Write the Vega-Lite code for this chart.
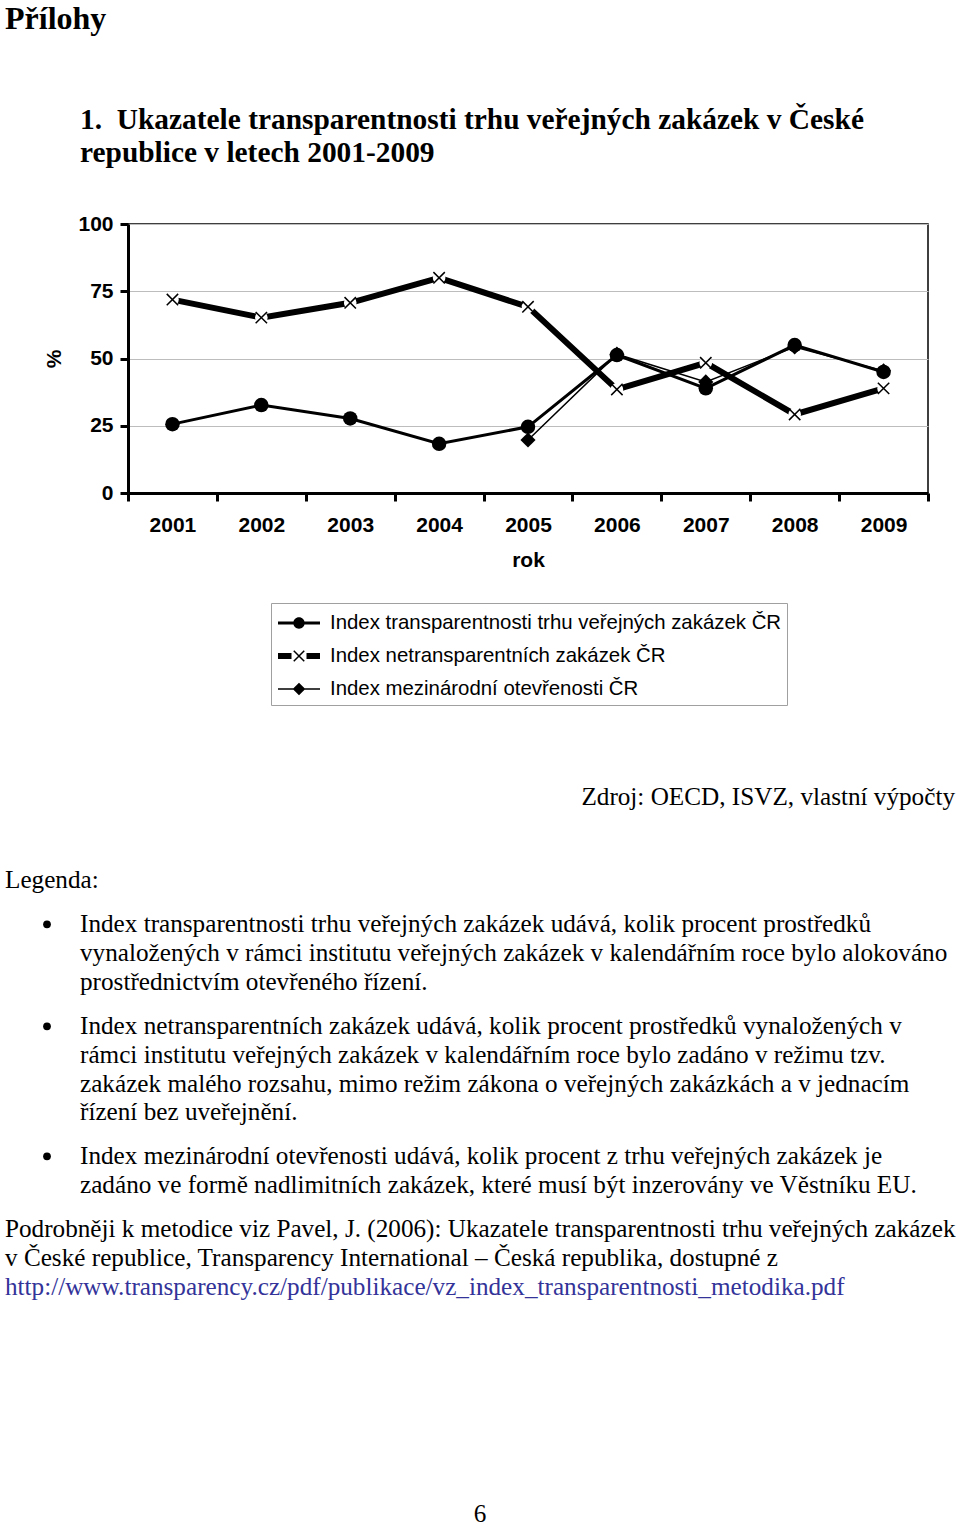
{
  "$schema": "https://vega.github.io/schema/vega-lite/v6.json",
  "background": "white",
  "padding": {"left": 5, "top": 2, "right": 0, "bottom": 0},
  "config": {
    "font": "Liberation Sans",
    "view": {"stroke": null},
    "text": {"color": "black"}
  },
  "title": {
    "text": "Přílohy",
    "anchor": "start",
    "frame": "bounds",
    "font": "Liberation Serif",
    "fontSize": 32,
    "fontWeight": "bold",
    "color": "black",
    "offset": 68
  },
  "datasets": {
    "idx": [
      {"rok": "2001", "name": "Index transparentnosti trhu veřejných zakázek ČR", "value": 25.6},
      {"rok": "2002", "name": "Index transparentnosti trhu veřejných zakázek ČR", "value": 32.7},
      {"rok": "2003", "name": "Index transparentnosti trhu veřejných zakázek ČR", "value": 27.7},
      {"rok": "2004", "name": "Index transparentnosti trhu veřejných zakázek ČR", "value": 18.3},
      {"rok": "2005", "name": "Index transparentnosti trhu veřejných zakázek ČR", "value": 24.6},
      {"rok": "2006", "name": "Index transparentnosti trhu veřejných zakázek ČR", "value": 51.3},
      {"rok": "2007", "name": "Index transparentnosti trhu veřejných zakázek ČR", "value": 38.9},
      {"rok": "2008", "name": "Index transparentnosti trhu veřejných zakázek ČR", "value": 55.0},
      {"rok": "2009", "name": "Index transparentnosti trhu veřejných zakázek ČR", "value": 45.0},
      {"rok": "2001", "name": "Index netransparentních zakázek ČR", "value": 71.9},
      {"rok": "2002", "name": "Index netransparentních zakázek ČR", "value": 65.2},
      {"rok": "2003", "name": "Index netransparentních zakázek ČR", "value": 70.7},
      {"rok": "2004", "name": "Index netransparentních zakázek ČR", "value": 80.0},
      {"rok": "2005", "name": "Index netransparentních zakázek ČR", "value": 69.2},
      {"rok": "2006", "name": "Index netransparentních zakázek ČR", "value": 38.5},
      {"rok": "2007", "name": "Index netransparentních zakázek ČR", "value": 48.4},
      {"rok": "2008", "name": "Index netransparentních zakázek ČR", "value": 29.2},
      {"rok": "2009", "name": "Index netransparentních zakázek ČR", "value": 38.9},
      {"rok": "2005", "name": "Index mezinárodní otevřenosti ČR", "value": 19.7},
      {"rok": "2006", "name": "Index mezinárodní otevřenosti ČR", "value": 51.6},
      {"rok": "2007", "name": "Index mezinárodní otevřenosti ČR", "value": 41.3},
      {"rok": "2008", "name": "Index mezinárodní otevřenosti ČR", "value": 54.3},
      {"rok": "2009", "name": "Index mezinárodní otevřenosti ČR", "value": 45.4}
    ],
    "text": [
      {"block": "zdroj", "line": 1, "col": "right", "kind": "text", "text": "Zdroj: OECD, ISVZ, vlastní výpočty"},
      {"block": "legenda", "line": 1, "col": "left", "kind": "text", "text": "Legenda:"},
      {"block": "p1", "line": 1, "col": "bullet", "kind": "text", "text": "•"},
      {"block": "p1", "line": 1, "col": "body", "kind": "text", "text": "Index transparentnosti trhu veřejných zakázek udává, kolik procent prostředků"},
      {"block": "p1", "line": 2, "col": "body", "kind": "text", "text": "vynaložených v rámci institutu veřejných zakázek v kalendářním roce bylo alokováno"},
      {"block": "p1", "line": 3, "col": "body", "kind": "text", "text": "prostřednictvím otevřeného řízení."},
      {"block": "p2", "line": 1, "col": "bullet", "kind": "text", "text": "•"},
      {"block": "p2", "line": 1, "col": "body", "kind": "text", "text": "Index netransparentních zakázek udává, kolik procent prostředků vynaložených v"},
      {"block": "p2", "line": 2, "col": "body", "kind": "text", "text": "rámci institutu veřejných zakázek v kalendářním roce bylo zadáno v režimu tzv."},
      {"block": "p2", "line": 3, "col": "body", "kind": "text", "text": "zakázek malého rozsahu, mimo režim zákona o veřejných zakázkách a v jednacím"},
      {"block": "p2", "line": 4, "col": "body", "kind": "text", "text": "řízení bez uveřejnění."},
      {"block": "p3", "line": 1, "col": "bullet", "kind": "text", "text": "•"},
      {"block": "p3", "line": 1, "col": "body", "kind": "text", "text": "Index mezinárodní otevřenosti udává, kolik procent z trhu veřejných zakázek je"},
      {"block": "p3", "line": 2, "col": "body", "kind": "text", "text": "zadáno ve formě nadlimitních zakázek, které musí být inzerovány ve Věstníku EU."},
      {"block": "tail", "line": 1, "col": "left", "kind": "text", "text": "Podrobněji k metodice viz Pavel, J. (2006): Ukazatele transparentnosti trhu veřejných zakázek"},
      {"block": "tail", "line": 2, "col": "left", "kind": "text", "text": "v České republice, Transparency International – Česká republika, dostupné z"},
      {"block": "tail", "line": 3, "col": "left", "kind": "link", "text": "http://www.transparency.cz/pdf/publikace/vz_index_transparentnosti_metodika.pdf"},
      {"block": "page", "line": 1, "col": "center", "kind": "text", "text": "6"}
    ]
  },
  "spacing": 15,
  "vconcat": [
    {
      "width": 800,
      "height": 269,
      "view": {"stroke": "black", "strokeWidth": 1.5},
      "title": {
        "text": ["1.\u00a0\u00a0Ukazatele transparentnosti trhu veřejných zakázek v České", "\u00a0\u00a0\u00a0\u00a0\u00a0republice v letech 2001-2009"],
        "anchor": "start",
        "frame": "group",
        "dx": -48,
        "font": "Liberation Serif",
        "fontSize": 29.4,
        "fontWeight": "bold",
        "lineHeight": 33,
        "color": "black",
        "offset": 45
      },
      "data": {"name": "idx"},
      "encoding": {
        "x": {
          "field": "rok",
          "type": "ordinal",
          "bandPosition": 0.5,
          "scale": {"type": "band", "paddingInner": 0, "paddingOuter": 0},
          "axis": {
            "title": "rok",
            "titleFontSize": 21,
            "titleFontWeight": "bold",
            "titleColor": "black",
            "titlePadding": 14,
            "labelFontSize": 21,
            "labelFontWeight": "bold",
            "labelColor": "black",
            "labelAngle": 0,
            "labelPadding": 13,
            "tickBand": "extent",
            "tickSize": 8,
            "tickWidth": 3,
            "tickColor": "black",
            "domainColor": "black",
            "domainWidth": 3,
            "grid": false
          }
        },
        "y": {
          "field": "value",
          "type": "quantitative",
          "scale": {"domain": [0, 100]},
          "axis": {
            "title": "%",
            "titleFontSize": 21,
            "titleFontWeight": "bold",
            "titleColor": "black",
            "titlePadding": 13,
            "values": [0, 25, 50, 75, 100],
            "labelFontSize": 21,
            "labelFontWeight": "bold",
            "labelColor": "black",
            "labelPadding": 7,
            "tickSize": 8,
            "tickWidth": 3,
            "tickColor": "black",
            "domainColor": "black",
            "domainWidth": 3,
            "grid": true,
            "gridColor": "#bdbdbd",
            "gridWidth": 1.2
          }
        }
      },
      "layer": [
        {
          "transform": [{"filter": "datum.name == 'Index transparentnosti trhu veřejných zakázek ČR'"}],
          "mark": {"type": "line", "color": "black", "strokeWidth": 3}
        },
        {
          "transform": [{"filter": "datum.name == 'Index transparentnosti trhu veřejných zakázek ČR'"}],
          "mark": {"type": "point", "shape": "circle", "filled": true, "color": "black", "opacity": 1, "size": 210}
        },
        {
          "transform": [{"filter": "datum.name == 'Index netransparentních zakázek ČR'"}],
          "mark": {"type": "line", "color": "black", "strokeWidth": 6}
        },
        {
          "transform": [{"filter": "datum.name == 'Index netransparentních zakázek ČR'"}],
          "mark": {"type": "point", "shape": "circle", "filled": true, "color": "white", "opacity": 1, "size": 160}
        },
        {
          "transform": [{"filter": "datum.name == 'Index netransparentních zakázek ČR'"}],
          "mark": {"type": "point", "shape": "M-1,-1L1,1M-1,1L1,-1", "filled": false, "color": "black", "opacity": 1, "size": 130, "strokeWidth": 1.5}
        },
        {
          "transform": [{"filter": "datum.name == 'Index mezinárodní otevřenosti ČR'"}],
          "mark": {"type": "line", "color": "black", "strokeWidth": 1.5}
        },
        {
          "transform": [{"filter": "datum.name == 'Index mezinárodní otevřenosti ČR'"}],
          "mark": {"type": "point", "shape": "diamond", "filled": true, "color": "black", "opacity": 1, "size": 230}
        },
        {
          "mark": {"type": "point", "filled": true, "color": "black", "opacity": 0},
          "encoding": {
            "shape": {
              "field": "name",
              "type": "nominal",
              "scale": {
                "domain": ["Index transparentnosti trhu veřejných zakázek ČR", "Index netransparentních zakázek ČR", "Index mezinárodní otevřenosti ČR"],
                "range": [
                  "M-1.4,-0.1L1.4,-0.1L1.4,0.1L-1.4,0.1Z M-0.38,0A0.38,0.38 0 1,1 0.38,0A0.38,0.38 0 1,1 -0.38,0Z",
                  "M-1.4,-0.2L-0.5,-0.2L-0.5,0.2L-1.4,0.2Z M0.5,-0.2L1.4,-0.2L1.4,0.2L0.5,0.2Z M-0.315,-0.385L0.385,0.315L0.315,0.385L-0.385,-0.315Z M0.315,-0.385L0.385,-0.315L-0.315,0.385L-0.385,0.315Z",
                  "M-1.4,-0.05L1.4,-0.05L1.4,0.05L-1.4,0.05Z M0,-0.42L0.42,0L0,0.42L-0.42,0Z"
                ]
              },
              "legend": {
                "title": null,
                "orient": "none",
                "legendX": 143,
                "legendY": 379,
                "direction": "vertical",
                "strokeColor": "#a0a0a0",
                "fillColor": "white",
                "padding": 5,
                "symbolSize": 900,
                "symbolStrokeWidth": 0,
                "symbolFillColor": "black",
                "symbolOpacity": 1,
                "symbolOffset": 8,
                "labelOffset": 16,
                "labelFontSize": 20.4,
                "labelFont": "Liberation Sans",
                "labelColor": "black",
                "labelLimit": 0,
                "rowPadding": 7
              }
            }
          }
        }
      ]
    },
    {
      "width": 827,
      "height": 265,
      "data": {"name": "text"},
      "transform": [{"filter": "datum.block == 'zdroj'"}],
      "mark": {"type": "text", "align": "right", "baseline": "middle", "font": "Liberation Serif", "fontSize": 25.2, "color": "black", "dy": 78},
      "encoding": {
        "x": {"field": "col", "type": "nominal", "scale": {"type": "point", "domain": ["left", "right"], "range": [-123, 827], "padding": 0}, "axis": null},
        "text": {"field": "text"}
      }
    },
    {
      "width": 827,
      "height": {"step": 28.7},
      "data": {"name": "text"},
      "transform": [{"filter": "datum.block == 'legenda'"}],
      "mark": {"type": "text", "align": "left", "baseline": "middle", "font": "Liberation Serif", "fontSize": 25.2, "color": "black"},
      "encoding": {
        "x": {"field": "col", "type": "nominal", "scale": {"type": "point", "domain": ["left", "right"], "range": [-123, 827], "padding": 0}, "axis": null},
        "y": {"field": "line", "type": "ordinal", "axis": null},
        "text": {"field": "text"}
      }
    },
    {
      "width": 827,
      "height": {"step": 28.7},
      "data": {"name": "text"},
      "transform": [{"filter": "datum.block == 'p1'"}],
      "encoding": {
        "x": {"field": "col", "type": "nominal", "scale": {"type": "point", "domain": ["bullet", "body"], "range": [-81, -48], "padding": 0}, "axis": null},
        "y": {"field": "line", "type": "ordinal", "axis": null}
      },
      "layer": [
        {
          "transform": [{"filter": "datum.col == 'body'"}],
          "mark": {"type": "text", "align": "left", "baseline": "middle", "font": "Liberation Serif", "fontSize": 25.2, "color": "black"},
          "encoding": {"text": {"field": "text"}}
        },
        {
          "transform": [{"filter": "datum.col == 'bullet'"}],
          "mark": {"type": "point", "shape": "circle", "filled": true, "color": "black", "opacity": 1, "size": 60}
        }
      ]
    },
    {
      "width": 827,
      "height": {"step": 28.7},
      "data": {"name": "text"},
      "transform": [{"filter": "datum.block == 'p2'"}],
      "encoding": {
        "x": {"field": "col", "type": "nominal", "scale": {"type": "point", "domain": ["bullet", "body"], "range": [-81, -48], "padding": 0}, "axis": null},
        "y": {"field": "line", "type": "ordinal", "axis": null}
      },
      "layer": [
        {
          "transform": [{"filter": "datum.col == 'body'"}],
          "mark": {"type": "text", "align": "left", "baseline": "middle", "font": "Liberation Serif", "fontSize": 25.2, "color": "black"},
          "encoding": {"text": {"field": "text"}}
        },
        {
          "transform": [{"filter": "datum.col == 'bullet'"}],
          "mark": {"type": "point", "shape": "circle", "filled": true, "color": "black", "opacity": 1, "size": 60}
        }
      ]
    },
    {
      "width": 827,
      "height": {"step": 28.7},
      "data": {"name": "text"},
      "transform": [{"filter": "datum.block == 'p3'"}],
      "encoding": {
        "x": {"field": "col", "type": "nominal", "scale": {"type": "point", "domain": ["bullet", "body"], "range": [-81, -48], "padding": 0}, "axis": null},
        "y": {"field": "line", "type": "ordinal", "axis": null}
      },
      "layer": [
        {
          "transform": [{"filter": "datum.col == 'body'"}],
          "mark": {"type": "text", "align": "left", "baseline": "middle", "font": "Liberation Serif", "fontSize": 25.2, "color": "black"},
          "encoding": {"text": {"field": "text"}}
        },
        {
          "transform": [{"filter": "datum.col == 'bullet'"}],
          "mark": {"type": "point", "shape": "circle", "filled": true, "color": "black", "opacity": 1, "size": 60}
        }
      ]
    },
    {
      "width": 827,
      "height": {"step": 28.7},
      "data": {"name": "text"},
      "transform": [{"filter": "datum.block == 'tail'"}],
      "mark": {"type": "text", "align": "left", "baseline": "middle", "font": "Liberation Serif", "fontSize": 25.2},
      "encoding": {
        "x": {"field": "col", "type": "nominal", "scale": {"type": "point", "domain": ["left", "right"], "range": [-123, 827], "padding": 0}, "axis": null},
        "y": {"field": "line", "type": "ordinal", "axis": null},
        "color": {"field": "kind", "type": "nominal", "scale": {"domain": ["text", "link"], "range": ["black", "#333399"]}, "legend": null},
        "text": {"field": "text"}
      }
    },
    {
      "width": 827,
      "height": 200,
      "data": {"name": "text"},
      "transform": [{"filter": "datum.block == 'page'"}],
      "mark": {"type": "text", "align": "center", "baseline": "middle", "font": "Liberation Serif", "fontSize": 25.2, "color": "black", "dy": 97},
      "encoding": {
        "x": {"field": "col", "type": "nominal", "scale": {"type": "point", "domain": ["left", "center", "right"], "range": [-123, 827], "padding": 0}, "axis": null},
        "text": {"field": "text"}
      }
    }
  ]
}
